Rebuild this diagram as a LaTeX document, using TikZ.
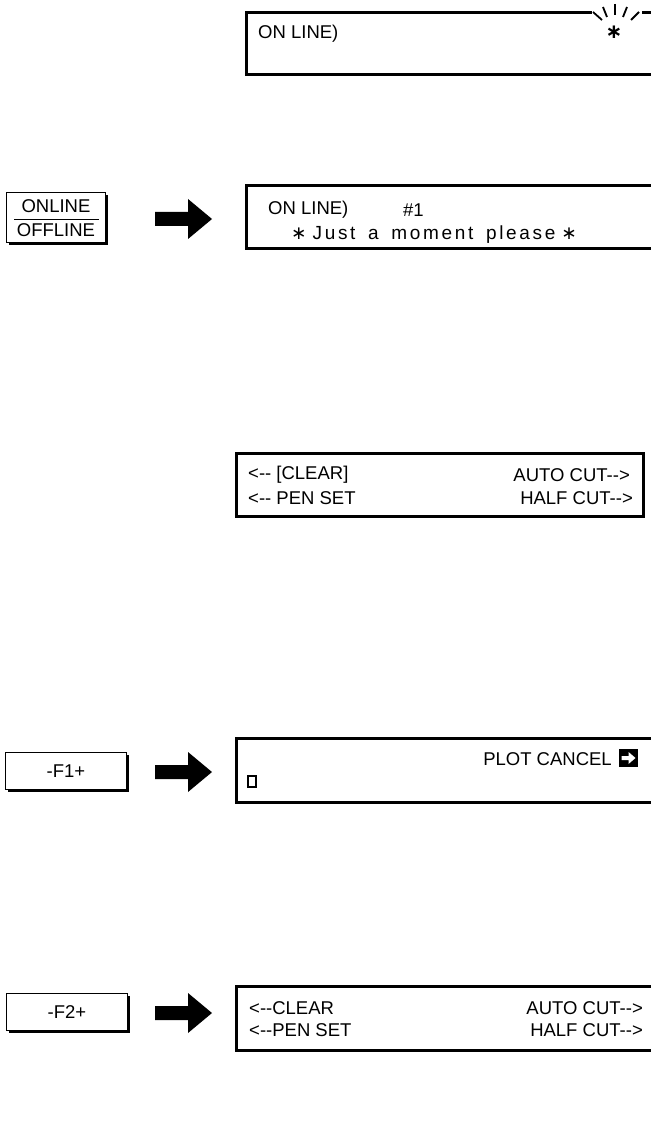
\documentclass[tikz,border=0pt]{standalone}
\usepackage{fontspec}
\setmainfont{Liberation Sans}
\newfontfamily\symfont{DejaVu Sans}
\newfontfamily\lcdfont[LetterSpace=14,WordSpace=1.6]{Liberation Sans}
\usetikzlibrary{calc,shadows}

\tikzset{
  lcd/.style={line width=3pt, line join=miter},
  keycap/.style={draw, line width=1pt, fill=white, inner sep=0pt,
    drop shadow={shadow xshift=2pt, shadow yshift=-2pt, fill=black, opacity=1}},
  txt/.style={inner sep=0pt, font=\fontsize{18.5}{22}\selectfont},
  ray/.style={line width=1.8pt}
}
% block arrow, tail centre at #1
\newcommand\blockarrow[1]{%
  \fill (#1) ++(0,-7) -- ++(33,0) -- ++(0,-13) -- ++(24,20)
    -- ++(-24,20) -- ++(0,-13) -- ++(-33,0) -- cycle;}

\begin{document}
\begin{tikzpicture}[x=1pt, y=-1pt, line cap=butt]
  \useasboundingbox (0,0) rectangle (650,1139);
  \def\xr{653}
  % display 1 (ON LINE, blinking star)
  \draw[lcd] (592,13) -- (246,13) -- (246,75) -- (\xr,75);
  \draw[lcd] (642,13) -- (\xr,13);
  \draw[ray] (593,12) -- (602,20);
  \draw[ray] (603,7) -- (607,17);
  \draw[ray] (615,4) -- (615,15);
  \draw[ray] (627,7) -- (623,17);
  \draw[ray] (639,12) -- (631,20);
  \node[txt, anchor=west] (on1) at (258,34) {ON LINE)};
  \node[inner sep=0pt, font=\symfont\bfseries\fontsize{20}{20}\selectfont] (blink) at (614,32) {∗};
  % ONLINE key -> display 2
  \node[keycap, minimum width=99pt, minimum height=50pt, align=center, txt]
    (konl) at (56,218) {ONLINE\\[2pt]OFFLINE};
  \draw[line width=0.9pt] ($(konl.center)+(-42,1)$) -- ($(konl.center)+(43,1)$);
  \coordinate (a1) at (155,219);
  \blockarrow{a1}
  \draw[lcd] (\xr,186) -- (246,186) -- (246,249) -- (\xr,249);
  \node[txt, anchor=west] (on2) at (268,210) {ON LINE)};
  \node[txt, anchor=west] (job) at (403,210) {\#1};
  \node[txt] (wait) at (434,235)
    {{\symfont ∗}\hspace{6pt}{\lcdfont\fontsize{19}{22}\selectfont Just a moment please}\hspace{6pt}{\symfont ∗}};
  % display 3 (menu)
  \draw[lcd] (236,453) rectangle (643,516);
  \node[txt, anchor=west] (m1) at (248,475) {<-{}- [CLEAR]};
  \node[txt, anchor=west] (m2) at (248,498) {<-{}- PEN SET};
  \node[txt, anchor=east] (m3) at (630,475) {AUTO CUT-{}->};
  \node[txt, anchor=east] (m4) at (633,498) {HALF CUT-{}->};
  % F1 key -> display 4
  \node[keycap, minimum width=121pt, minimum height=37pt, txt] (kf1) at (66,771) {-F1+};
  \coordinate (a2) at (155,772);
  \blockarrow{a2}
  \draw[lcd] (\xr,738) -- (236,738) -- (236,802) -- (\xr,802);
  \node[txt, anchor=east] (plot) at (612,759) {PLOT CANCEL};
  \node[fill=black, minimum width=19pt, minimum height=18pt, inner sep=0pt] (go) at (628.5,758) {};
  \fill[white] ($(go.center)+(-7,-2)$) -- ++(7,0) -- ++(0,-4) -- ++(7,6)
    -- ++(-7,6) -- ++(0,-4) -- ++(-7,0) -- cycle;
  \draw[line width=1.3pt] (248,776) rectangle (256,787);
  % F2 key -> display 5
  \node[keycap, minimum width=121pt, minimum height=37pt, txt] (kf2) at (67,1012) {-F2+};
  \coordinate (a3) at (155,1013);
  \blockarrow{a3}
  \draw[lcd] (\xr,986) -- (236,986) -- (236,1050) -- (\xr,1050);
  \node[txt, anchor=west] (n1) at (249,1008) {<-{}-CLEAR};
  \node[txt, anchor=west] (n2) at (249,1030) {<-{}-PEN SET};
  \node[txt, anchor=east] (n3) at (643,1008) {AUTO CUT-{}->};
  \node[txt, anchor=east] (n4) at (643,1030) {HALF CUT-{}->};
\end{tikzpicture}
\end{document}
